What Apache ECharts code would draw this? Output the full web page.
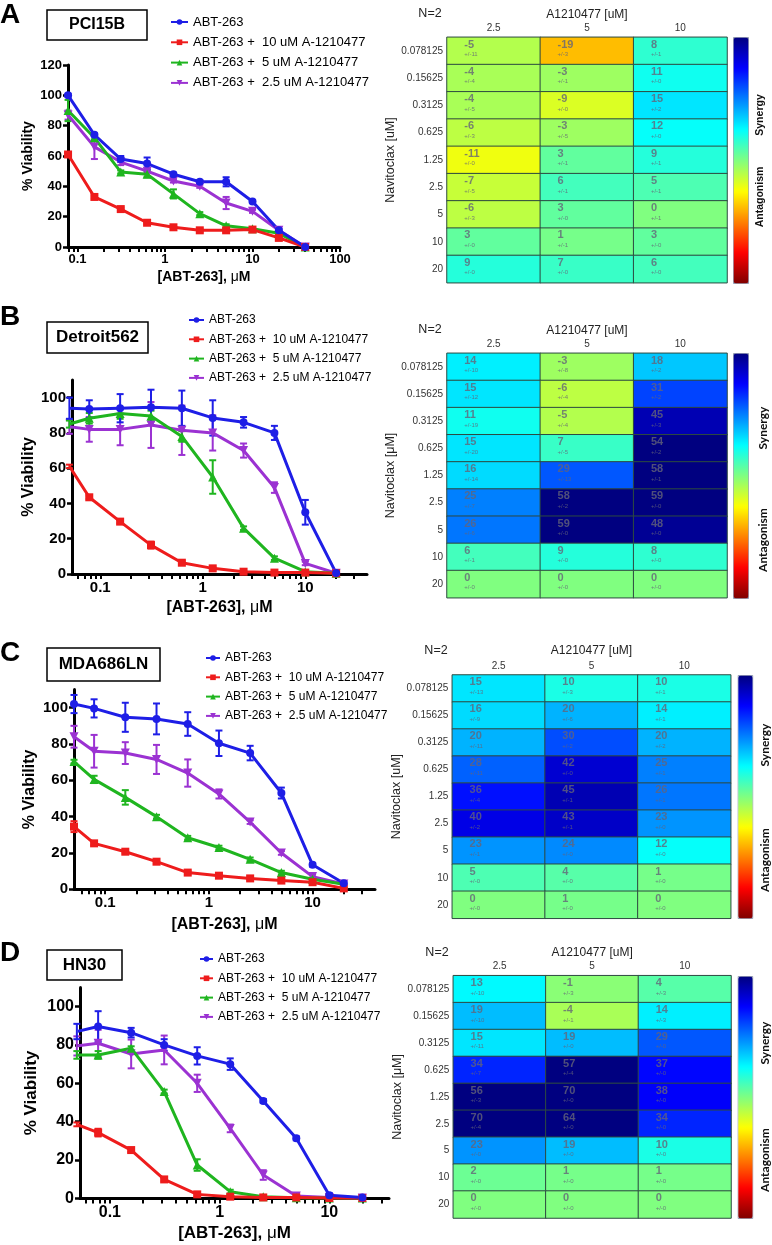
<!DOCTYPE html>
<html><head><meta charset="utf-8">
<script src="https://cdn.jsdelivr.net/npm/echarts@6/dist/echarts.min.js"></script>
<style>html,body{margin:0;padding:0;background:#fff}#c{width:772px;height:1245px}</style>
</head><body><div id="c"></div>
<script>
// ---------------- data ----------------
const seriesNames = ['ABT-263', 'ABT-263 +  10 uM A-1210477', 'ABT-263 +  5 uM A-1210477', 'ABT-263 +  2.5 uM A-1210477'];
const navitoclaxLabels = ['0.078125', '0.15625', '0.3125', '0.625', '1.25', '2.5', '5', '10', '20'];
const a1210477Labels = ['2.5', '5', '10'];
const xTickValues = [0.1, 1, 10, 100];
const xMinorTickValues = [0.03, 0.04, 0.05, 0.06, 0.07, 0.08, 0.09, 0.2, 0.3, 0.4, 0.5, 0.6, 0.7, 0.8, 0.9, 2, 3, 4, 5, 6, 7, 8, 9, 20, 30, 40, 50, 60, 70, 80, 90];
const yTickValuesA = [0, 20, 40, 60, 80, 100, 120];
const yTickValues = [0, 20, 40, 60, 80, 100];

const doseA = [0.078125, 0.15625, 0.3125, 0.625, 1.25, 2.5, 5, 10, 20, 40];
const doseBCD = [0.05, 0.078125, 0.15625, 0.3125, 0.625, 1.25, 2.5, 5, 10, 20];

// Panel A – PCI15B
const aBlue = [100, 74, 58, 55, 48, 43, 43, 30, 11, 0];
const aBlueErr = [1, 1, 2, 4, 1, 1, 3, 1, 1, 0];
const aRed = [61, 33, 25, 16, 13, 11, 11, 11.5, 6, 0];
const aRedErr = [1, 1, 1, 1, 1, 1, 1, 1, 1, 0];
const aGreen = [90, 72, 49.5, 48, 35, 22, 14, 12, 9, 0];
const aGreenErr = [7, 1, 1, 2, 3, 1, 1, 1, 1, 0];
const aPurple = [87, 66, 56, 50, 43.5, 40, 29, 23.5, 11, 0];
const aPurpleErr = [3, 8, 2, 1, 1, 1, 4, 1, 1, 0];

// Panel B – Detroit562
const bBlue = [94, 93.5, 94, 94.5, 94, 88.5, 86, 80, 35, 0.5];
const bBlueErr = [6, 5, 8, 10, 10, 10, 3, 4, 7, 0];
const bRed = [61, 43.5, 29.7, 16.4, 6.4, 3.2, 1.3, 0.8, 0.8, 0.4];
const bRedErr = [1, 1, 1, 2, 1, 1, 0.5, 0.5, 0.5, 0];
const bGreen = [85, 88.3, 91, 89.6, 78, 55, 26, 9, 1.3, 0.4];
const bGreenErr = [2, 3, 3, 3, 3, 9.5, 1, 1, 0.5, 0];
const bPurple = [83.5, 82, 82, 84.5, 81.5, 80, 70, 49, 6, 0.4];
const bPurpleErr = [4, 7, 9, 13, 14, 10, 4, 3, 1, 0];

// Panel C – MDA686LN
const cBlue = [102, 99.6, 94.7, 93.8, 91, 80.4, 75, 53, 13.5, 3.3];
const cBlueErr = [5, 5, 8, 8.5, 6.5, 7, 4, 3, 1, 0.5];
const cRed = [34.5, 25.3, 20.7, 15.2, 9.2, 7.5, 6, 4.8, 3.9, 0.5];
const cRedErr = [3, 1, 1, 1, 1, 1, 1, 1, 1, 0];
const cGreen = [70.3, 60.5, 50.6, 40, 28.4, 23, 16.5, 9.2, 5.5, 2.8];
const cGreenErr = [1, 2, 4, 1, 1, 1, 1, 1, 1, 0];
const cPurple = [84, 76, 75, 71.5, 64, 52.5, 37, 20, 7, 2.9];
const cPurpleErr = [6, 9, 6, 8, 7.5, 2.5, 1, 1, 1, 0];

// Panel D – HN30
const dBlue = [87, 89.6, 86.4, 80, 74.3, 70, 50.8, 31.3, 1.7, 0.5];
const dBlueErr = [4, 8, 2.5, 3, 4.5, 3, 1, 1, 1, 0];
const dRed = [38.6, 34.3, 25.2, 9.9, 2.1, 0.9, 0.5, 0.5, 0.2, 0.2];
const dRedErr = [1, 2, 1, 1, 1, 0.5, 0.3, 0.3, 0.2, 0];
const dGreen = [74.8, 74.8, 78.3, 55.7, 17.4, 3.5, 0.9, 0.3, 0.2, 0.2];
const dGreenErr = [2, 2, 1, 1, 3, 1, 0.5, 0.2, 0, 0];
const dPurple = [79.5, 80.9, 75.3, 77.4, 60, 36.5, 12.2, 1.2, 0.5, 0.2];
const dPurpleErr = [5, 7, 7.5, 7.5, 4.5, 2, 2.5, 1, 0.5, 0];

// Synergy heatmaps (rows: Navitoclax, cols: A1210477)
const synA = [[-5, -19, 8], [-4, -3, 11], [-4, -9, 15], [-6, -3, 12], [-11, 3, 9], [-7, 6, 5], [-6, 3, 0], [3, 1, 3], [9, 7, 6]];
const synAErr = [[11, 3, 1], [4, 1, 0], [5, 0, 2], [3, 5, 0], [0, 1, 1], [5, 1, 1], [3, 0, 1], [0, 1, 0], [0, 0, 0]];
const synB = [[14, -3, 18], [15, -6, 31], [11, -5, 45], [15, 7, 54], [16, 29, 58], [25, 58, 59], [26, 59, 48], [6, 9, 8], [0, 0, 0]];
const synBErr = [[10, 8, 2], [12, 4, 2], [19, 4, 3], [20, 5, 2], [14, 13, 1], [7, 2, 0], [6, 0, 0], [1, 0, 0], [0, 0, 0]];
const synC = [[15, 10, 10], [16, 20, 14], [20, 30, 20], [28, 42, 25], [36, 45, 26], [40, 43, 23], [23, 24, 12], [5, 4, 1], [0, 1, 0]];
const synCErr = [[13, 3, 1], [9, 6, 1], [11, 2, 2], [11, 0, 1], [4, 1, 1], [2, 1, 0], [1, 0, 0], [0, 0, 0], [0, 0, 0]];
const synD = [[13, -1, 4], [19, -4, 14], [15, 19, 29], [34, 57, 37], [56, 70, 38], [70, 64, 34], [23, 19, 10], [2, 1, 1], [0, 0, 0]];
const synDErr = [[10, 3, 3], [10, 1, 3], [11, 0, 0], [7, 4, 0], [3, 0, 0], [4, 0, 0], [0, 0, 0], [0, 0, 0], [0, 0, 0]];

// ---------------- layout & style ----------------
const FONT = '"Liberation Sans", Arial, sans-serif';
const COLORS = ['#1e1ee6', '#ee1c1c', '#1fb51f', '#9b32d2'];
const SYMBOLS = ['circle', 'rect', 'triangle', 'triangle'];
const SYMROT = [0, 0, 0, 180];
const JET = ['#800000', '#ff0000', '#ff8000', '#ffff00', '#80ff80', '#00ffff', '#0080ff', '#0000ff', '#000080'];

const linePanels = [
  { grid: { left: 68, top: 65, width: 272, height: 182 }, xMin: 0.078, xMax: 100, yMax: 120, yTicks: yTickValuesA,
    dose: doseA, vals: [aBlue, aRed, aGreen, aPurple], errs: [aBlueErr, aRedErr, aGreenErr, aPurpleErr],
    tickFont: 13, nameFont: 14, legendFont: 13, yNameGap: 33, xNameGap: 23, xLabelMargin: 6,
    legend: { left: 170, top: 15, w: 17, pitch: 20.3 } },
  { grid: { left: 72, top: 380, width: 295, height: 194 }, xMin: 0.053, xMax: 40, yMax: 110, yTicks: yTickValues,
    dose: doseBCD, vals: [bBlue, bRed, bGreen, bPurple], errs: [bBlueErr, bRedErr, bGreenErr, bPurpleErr],
    tickFont: 15, nameFont: 16, legendFont: 12, yNameGap: 34, xNameGap: 26, xLabelMargin: 6,
    legend: { left: 188, top: 313, w: 15, pitch: 19.3 } },
  { grid: { left: 74, top: 689.5, width: 301, height: 199.8 }, xMin: 0.05, xMax: 40, yMax: 110, yTicks: yTickValues,
    dose: doseBCD, vals: [cBlue, cRed, cGreen, cPurple], errs: [cBlueErr, cRedErr, cGreenErr, cPurpleErr],
    tickFont: 15, nameFont: 16, legendFont: 12, yNameGap: 36, xNameGap: 27, xLabelMargin: 6,
    legend: { left: 205, top: 651, w: 14, pitch: 19.3 } },
  { grid: { left: 80, top: 987.4, width: 309, height: 211 }, xMin: 0.0534, xMax: 35, yMax: 110, yTicks: yTickValues,
    dose: doseBCD, vals: [dBlue, dRed, dGreen, dPurple], errs: [dBlueErr, dRedErr, dGreenErr, dPurpleErr],
    tickFont: 16, nameFont: 17, legendFont: 12, yNameGap: 40, xNameGap: 26, xLabelMargin: 6,
    legend: { left: 199, top: 952, w: 13, pitch: 19.3 } }
];

const heatPanels = [
  { grid: { left: 447, top: 37.3, width: 280, height: 245.4 }, syn: synA, err: synAErr, yName: 'Navitoclax [uM]',
    vm: { left: 733, top: 37, w: 15, h: 246 }, xNameGap: 17, yNameGap: 49,
    n2: [430, 14], syn1: [760, 115], ant: [760, 197], sideFont: 'bold 10.5px ' + FONT },
  { grid: { left: 447, top: 353.3, width: 280, height: 244.4 }, syn: synB, err: synBErr, yName: 'Navitoclax [μM]',
    vm: { left: 733, top: 353, w: 15, h: 245 }, xNameGap: 17, yNameGap: 48.5,
    n2: [430, 330], syn1: [763, 428], ant: [763, 540], sideFont: 'bold 12px Lato, ' + FONT },
  { grid: { left: 452.3, top: 675, width: 278.4, height: 243.3 }, syn: synC, err: synCErr, yName: 'Navitoclax [uM]',
    vm: { left: 737.7, top: 675, w: 14.5, h: 243 }, xNameGap: 18, yNameGap: 48,
    n2: [436, 651], syn1: [765, 745], ant: [765, 860], sideFont: 'bold 12px Lato, ' + FONT },
  { grid: { left: 453.3, top: 975.7, width: 277.7, height: 242.3 }, syn: synD, err: synDErr, yName: 'Navitoclax [μM]',
    vm: { left: 737.7, top: 976, w: 14.5, h: 242 }, xNameGap: 17, yNameGap: 48.5,
    n2: [437, 953], syn1: [765, 1043], ant: [765, 1160], sideFont: 'bold 12px Lato, ' + FONT }
];

const panelLabels = [
  { letter: 'A', lx: 0, ly: 15, box: [47, 10, 100, 30], name: 'PCI15B', fs: 16 },
  { letter: 'B', lx: 0, ly: 317, box: [47, 322, 101, 31], name: 'Detroit562', fs: 17 },
  { letter: 'C', lx: 0, ly: 653, box: [47, 648, 113, 33], name: 'MDA686LN', fs: 17 },
  { letter: 'D', lx: 0, ly: 953, box: [47, 950, 75, 30], name: 'HN30', fs: 17 }
];

// ---------------- build option ----------------
const grid = [], xAxis = [], yAxis = [], series = [], legend = [], visualMap = [], graphic = [];

linePanels.forEach(p => {
  const gi = grid.length;
  grid.push(Object.assign({}, p.grid));
  const xi = xAxis.length, yi = yAxis.length;
  const majors = xTickValues.filter(v => v >= p.xMin && v <= p.xMax);
  const allTicks = majors.concat(xMinorTickValues.filter(v => v > p.xMin && v < p.xMax)).sort((a, b) => a - b);
  xAxis.push({
    gridIndex: gi, type: 'log', logBase: 10, min: p.xMin, max: p.xMax,
    name: '[ABT-263], {m|μ}M', nameLocation: 'middle', nameGap: p.xNameGap,
    nameTextStyle: { fontFamily: FONT, fontWeight: 'bold', fontSize: p.nameFont, color: '#000',
      rich: { m: { fontFamily: FONT, fontWeight: 'normal', fontSize: p.nameFont, color: '#000' } } },
    axisLine: { show: true, onZero: false, lineStyle: { color: '#000', width: 3 } },
    axisTick: { show: true, customValues: allTicks, length: 5, lineStyle: { color: '#000', width: 2 } },
    axisLabel: { customValues: majors, formatter: v => String(v), fontFamily: FONT, fontWeight: 'bold',
      fontSize: p.tickFont, color: '#000', margin: p.xLabelMargin },
    splitLine: { show: false }, minorTick: { show: false }, minorSplitLine: { show: false }
  });
  yAxis.push({
    gridIndex: gi, type: 'value', min: 0, max: p.yMax,
    name: '% Viability', nameLocation: 'middle', nameGap: p.yNameGap, nameRotate: 90,
    nameTextStyle: { fontFamily: FONT, fontWeight: 'bold', fontSize: p.nameFont, color: '#000' },
    axisLine: { show: true, onZero: false, lineStyle: { color: '#000', width: 3 } },
    axisTick: { show: true, customValues: p.yTicks, length: 5, lineStyle: { color: '#000', width: 2.5 } },
    axisLabel: { customValues: p.yTicks, fontFamily: FONT, fontWeight: 'bold', fontSize: p.tickFont, color: '#000', margin: 6 },
    splitLine: { show: false }
  });

  // draw order: purple, green, red, blue (blue on top)
  [3, 2, 1, 0].forEach(k => {
    series.push({
      type: 'custom', xAxisIndex: xi, yAxisIndex: yi, silent: true, z: 2,
      data: p.dose.map((d, i) => [d, p.vals[k][i], p.errs[k][i]]),
      encode: { x: 0, y: 1 },
      renderItem: (params, api) => {
        const x = api.value(0), y = api.value(1), e = api.value(2);
        if (!e) return null;
        const t = api.coord([x, y + e]), b = api.coord([x, Math.max(0, y - e)]);
        const c = COLORS[k], w = 3.5, ls = { stroke: c, lineWidth: 2 };
        return { type: 'group', children: [
          { type: 'line', shape: { x1: t[0], y1: t[1], x2: b[0], y2: b[1] }, style: ls },
          { type: 'line', shape: { x1: t[0] - w, y1: t[1], x2: t[0] + w, y2: t[1] }, style: ls },
          { type: 'line', shape: { x1: b[0] - w, y1: b[1], x2: b[0] + w, y2: b[1] }, style: ls }
        ] };
      }
    });
    series.push({
      type: 'line', name: seriesNames[k], xAxisIndex: xi, yAxisIndex: yi, z: 3,
      data: p.dose.map((d, i) => [d, p.vals[k][i]]),
      symbol: SYMBOLS[k], symbolRotate: SYMROT[k], symbolSize: k >= 2 ? 9 : 8,
      lineStyle: { color: COLORS[k], width: 3 }, itemStyle: { color: COLORS[k] },
      emphasis: { disabled: true }, animation: false
    });
  });

  legend.push({
    orient: 'vertical', left: p.legend.left, top: p.legend.top, data: seriesNames,
    itemWidth: p.legend.w, itemHeight: 7, itemGap: p.legend.pitch - 14, padding: 0,
    textStyle: { fontFamily: FONT, fontSize: p.legendFont, color: '#000', lineHeight: 14 },
    selectedMode: false
  });
});

heatPanels.forEach(h => {
  const gi = grid.length;
  grid.push(Object.assign({}, h.grid));
  const xi = xAxis.length, yi = yAxis.length;
  xAxis.push({
    gridIndex: gi, type: 'category', position: 'top', data: a1210477Labels,
    name: 'A1210477 [uM]', nameLocation: 'middle', nameGap: h.xNameGap,
    nameTextStyle: { fontFamily: FONT, fontSize: 12, color: '#222' },
    axisLine: { show: false }, axisTick: { show: false },
    axisLabel: { fontFamily: FONT, fontSize: 10, color: '#333', margin: 4 }, splitLine: { show: false }
  });
  yAxis.push({
    gridIndex: gi, type: 'category', inverse: true, data: navitoclaxLabels,
    name: h.yName, nameLocation: 'middle', nameGap: h.yNameGap, nameRotate: 90,
    nameTextStyle: { fontFamily: FONT, fontSize: 12.5, color: '#222' },
    axisLine: { show: false }, axisTick: { show: false },
    axisLabel: { fontFamily: FONT, fontSize: 10, color: '#333', margin: 4 }, splitLine: { show: false }
  });
  const data = [];
  h.syn.forEach((row, r) => row.forEach((v, c) => data.push([c, r, v])));
  const txt = 'rgba(100,100,120,0.8)';
  series.push({
    type: 'heatmap', xAxisIndex: xi, yAxisIndex: yi, data: data,
    itemStyle: { borderColor: '#2d4a40', borderWidth: 1 },
    emphasis: { disabled: true }, animation: false,
    label: {
      show: true, position: [18, 2],
      formatter: p => '{v|' + p.value[2] + '}\n{e|+/-' + h.err[p.value[1]][p.value[0]] + '}',
      rich: {
        v: { fontFamily: FONT, fontWeight: 'bold', fontSize: 11, lineHeight: 12, color: txt },
        e: { fontFamily: FONT, fontSize: 6, lineHeight: 8, color: txt }
      }
    }
  });
  visualMap.push({
    type: 'continuous', seriesIndex: series.length - 1, dimension: 2, min: -50, max: 50,
    calculable: false, hoverLink: false, orient: 'vertical',
    left: h.vm.left, top: h.vm.top, itemWidth: h.vm.w, itemHeight: h.vm.h, padding: 0,
    inRange: { color: JET }, borderColor: '#9098b0', borderWidth: 1
  });
  graphic.push({ type: 'text', x: h.n2[0], y: h.n2[1],
    style: { text: 'N=2', font: '12.5px ' + FONT, fill: '#222', align: 'center', verticalAlign: 'middle', textAlign: 'center', textVerticalAlign: 'middle' } });
  graphic.push({ type: 'text', x: h.syn1[0], y: h.syn1[1], rotation: Math.PI / 2,
    style: { text: 'Synergy', font: h.sideFont, fill: '#111', align: 'center', verticalAlign: 'middle', textAlign: 'center', textVerticalAlign: 'middle' } });
  graphic.push({ type: 'text', x: h.ant[0], y: h.ant[1], rotation: Math.PI / 2,
    style: { text: 'Antagonism', font: h.sideFont, fill: '#111', align: 'center', verticalAlign: 'middle', textAlign: 'center', textVerticalAlign: 'middle' } });
});

panelLabels.forEach(l => {
  graphic.push({ type: 'text', x: l.lx, y: l.ly,
    style: { text: l.letter, font: 'bold 28px ' + FONT, fill: '#000', align: 'left', verticalAlign: 'middle', textAlign: 'left', textVerticalAlign: 'middle' } });
  graphic.push({ type: 'rect', shape: { x: l.box[0], y: l.box[1], width: l.box[2], height: l.box[3] },
    style: { fill: '#fff', stroke: '#000', lineWidth: 1.5 } });
  graphic.push({ type: 'text', x: l.box[0] + l.box[2] / 2, y: l.box[1] + l.box[3] / 2,
    style: { text: l.name, font: 'bold ' + l.fs + 'px ' + FONT, fill: '#000', align: 'center', verticalAlign: 'middle', textAlign: 'center', textVerticalAlign: 'middle' } });
});

const chart = echarts.init(document.getElementById('c'));
chart.setOption({
  backgroundColor: '#fff', animation: false,
  grid, xAxis, yAxis, series, legend, visualMap, graphic
});
</script></body></html>
